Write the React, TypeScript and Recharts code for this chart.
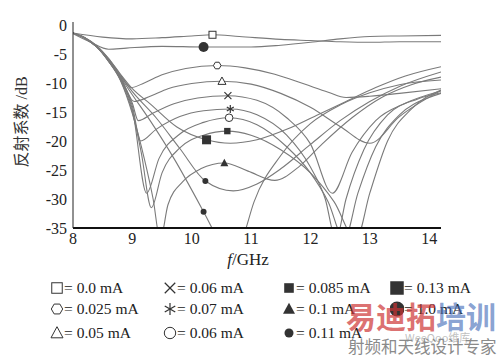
import React from "react";
import { LineChart, Line, XAxis, YAxis } from "recharts";

const xTicks = [8, 9, 10, 11, 12, 13, 14];
const yTicks = [0, -5, -10, -15, -20, -25, -30, -35];

// 0.0 mA
const f00 = [8, 8.5, 9.0, 9.5, 10.0, 10.35, 10.8, 11.5, 12.0, 12.5, 13.0, 13.5, 14.2];
const r00 = [-1.4, -2.1, -2.4, -2.2, -1.9, -1.7, -2.0, -2.5, -2.7, -2.9, -3.0, -2.9, -2.9];
// 1.0 mA
const f1 = [8, 8.3, 8.6, 8.9, 9.5, 10.2, 11.0, 11.5, 12.0, 12.5, 13.0, 13.5, 14.2];
const r1 = [-1.5, -3.0, -4.2, -4.0, -3.7, -3.8, -3.8, -3.5, -3.0, -2.4, -2.0, -1.9, -1.8];
// 0.025 mA
const f025 = [8, 8.2, 8.4, 8.6, 8.8, 8.98, 9.2, 9.5, 9.9, 10.43, 10.9, 11.4, 11.9, 12.3, 12.6, 13.0, 13.5, 14.2];
const r025 = [-1.4, -2.2, -3.6, -5.8, -8.6, -10.8, -10.0, -8.6, -7.5, -7.0, -7.4, -8.5, -10.2, -11.6, -12.5, -12.3, -11.8, -11.0];
// 0.05 mA
const f05 = [8, 8.2, 8.4, 8.6, 8.8, 9.03, 9.3, 9.6, 10.0, 10.51, 11.0, 11.5, 12.0, 12.5, 13.0, 13.5, 14.2];
const r05 = [-1.4, -2.3, -3.7, -6.0, -9.0, -13.2, -12.3, -11.0, -10.1, -9.7, -10.2, -11.8, -14.2, -17.5, -20.4, -15.8, -11.3];
// 0.06 mA (x)
const f06x = [8, 8.2, 8.4, 8.6, 8.8, 9.0, 9.1, 9.35, 9.7, 10.1, 10.61, 11.1, 11.6, 12.0, 12.37, 12.7, 13.1, 13.6, 14.2];
const r06x = [-1.4, -2.3, -3.8, -6.1, -9.2, -13.5, -16.5, -15.2, -13.6, -12.6, -12.2, -13.0, -16.0, -20.5, -29.0, -22.0, -16.5, -13.5, -11.4];
// 0.07 mA
const f07 = [8, 8.2, 8.4, 8.6, 8.8, 9.0, 9.14, 9.4, 9.8, 10.2, 10.65, 11.1, 11.6, 12.0, 12.25, 12.43, 12.6, 12.9, 13.3, 13.8, 14.2];
const r07 = [-1.4, -2.3, -3.8, -6.2, -9.3, -14.0, -20.0, -18.0, -15.8, -14.8, -14.5, -15.5, -19.0, -24.5, -30.0, -37.0, -30.0, -21.5, -15.5, -12.8, -11.7];
// 0.06 mA (circle)
const f06o = [8, 8.2, 8.4, 8.6, 8.8, 9.0, 9.24, 9.45, 9.8, 10.2, 10.63, 11.1, 11.6, 12.0, 12.3, 12.57, 12.8, 13.1, 13.5, 14.0, 14.2];
const r06o = [-1.4, -2.3, -3.8, -6.2, -9.4, -14.5, -29.0, -23.0, -18.8, -16.8, -16.0, -17.2, -21.0, -25.5, -30.5, -37.0, -29.0, -21.0, -15.5, -12.5, -11.8];
// 0.085 mA
const f085 = [8, 8.2, 8.4, 8.6, 8.8, 9.0, 9.15, 9.32, 9.5, 9.8, 10.2, 10.6, 11.0, 11.5, 12.0, 12.4, 12.77, 13.0, 13.3, 13.7, 14.2];
const r085 = [-1.4, -2.3, -3.8, -6.3, -9.5, -15.0, -22.0, -31.5, -25.5, -21.2, -19.0, -18.3, -19.0, -21.5, -25.5, -30.5, -37.0, -29.0, -20.0, -14.5, -11.2];
// 0.1 mA
const f10 = [8, 8.2, 8.4, 8.6, 8.8, 9.0, 9.2, 9.35, 9.47, 9.6, 9.85, 10.15, 10.55, 10.95, 11.4, 11.8, 12.2, 12.7, 13.2, 13.7, 14.2];
const r10 = [-1.4, -2.3, -3.8, -6.3, -9.6, -15.3, -23.0, -30.0, -37.0, -31.0, -27.0, -24.8, -23.8, -25.2, -26.8, -24.5, -20.5, -16.0, -12.5, -10.3, -9.0];
// 0.11 mA
const f11 = [8, 8.2, 8.4, 8.6, 8.8, 9.0, 9.4, 9.8, 10.23, 10.7, 11.1, 11.5, 12.0, 12.5, 13.0, 13.5, 14.2];
const r11 = [-1.4, -2.2, -3.7, -6.0, -8.8, -11.5, -16.0, -21.3, -26.9, -28.6, -27.4, -24.8, -20.6, -16.5, -13.2, -10.6, -8.1];
// 0.13 mA
const f13 = [8, 8.2, 8.4, 8.6, 8.8, 9.0, 9.3, 9.75, 10.25, 10.65, 11.1, 11.6, 12.1, 12.6, 13.1, 13.6, 14.2];
const r13 = [-1.4, -2.2, -3.6, -5.8, -8.5, -11.0, -13.6, -17.6, -19.8, -20.4, -19.8, -18.0, -15.6, -13.2, -10.8, -8.8, -7.2];
// unlabelled curve (dip below -35 near 10.65 GHz)
const fX = [8, 8.2, 8.4, 8.6, 8.8, 8.95, 9.3, 9.7, 10.2, 10.45, 10.65, 10.85, 11.05, 11.5, 12.0, 12.5, 13.0, 13.5, 14.2];
const rX = [-1.4, -2.3, -3.8, -6.1, -9.0, -11.3, -16.5, -23.0, -32.2, -37.0, -40.0, -37.0, -30.5, -22.5, -17.0, -13.8, -11.7, -10.3, -9.5];

type Shape = "sq" | "hex" | "tri" | "x" | "ast" | "circ" | "fsq" | "bsq" | "ftri" | "fdot" | "bdot";

const series: { id: string; label: string; f: number[]; r: number[]; mark: number; shape: Shape }[] = [
  { id: "s00", label: "0.0 mA", f: f00, r: r00, mark: 10.35, shape: "sq" },
  { id: "s025", label: "0.025 mA", f: f025, r: r025, mark: 10.43, shape: "hex" },
  { id: "s05", label: "0.05 mA", f: f05, r: r05, mark: 10.51, shape: "tri" },
  { id: "s06x", label: "0.06 mA", f: f06x, r: r06x, mark: 10.61, shape: "x" },
  { id: "s07", label: "0.07 mA", f: f07, r: r07, mark: 10.65, shape: "ast" },
  { id: "s06o", label: "0.06 mA", f: f06o, r: r06o, mark: 10.63, shape: "circ" },
  { id: "s085", label: "0.085 mA", f: f085, r: r085, mark: 10.6, shape: "fsq" },
  { id: "s10", label: "0.1 mA", f: f10, r: r10, mark: 10.55, shape: "ftri" },
  { id: "s11", label: "0.11 mA", f: f11, r: r11, mark: 10.23, shape: "fdot" },
  { id: "s13", label: "0.13 mA", f: f13, r: r13, mark: 10.25, shape: "bsq" },
  { id: "s1", label: "1.0 mA", f: f1, r: r1, mark: 10.2, shape: "bdot" },
  { id: "sX", label: "", f: fX, r: rX, mark: 10.2, shape: "fdot" },
];

// legend grid, by series id
const legendRows = [
  ["s00", "s06x", "s085", "s13"],
  ["s025", "s07", "s10", "s1"],
  ["s05", "s06o", "s11"],
];

const serif = "Liberation Serif, Times New Roman, serif";

function Marker({ shape, x, y, k = 1 }: { shape: Shape; x: number; y: number; k?: number }) {
  const c = "#333";
  const s = (v: number) => v * k;
  switch (shape) {
    case "sq":
      return <rect x={x - s(3.5)} y={y - s(3.5)} width={s(7)} height={s(7)} fill="#fff" stroke={c} strokeWidth={1} />;
    case "hex": {
      const pts = [0, 1, 2, 3, 4, 5]
        .map((i) => {
          const a = (Math.PI / 3) * i;
          return `${x + s(3.8) * Math.cos(a)},${y + s(3.8) * Math.sin(a)}`;
        })
        .join(" ");
      return <polygon points={pts} fill="#fff" stroke={c} strokeWidth={1} />;
    }
    case "tri":
      return (
        <polygon
          points={`${x},${y - s(4.2)} ${x + s(4)},${y + s(3.2)} ${x - s(4)},${y + s(3.2)}`}
          fill="#fff"
          stroke={c}
          strokeWidth={1}
        />
      );
    case "x":
      return (
        <g stroke={c} strokeWidth={1.2}>
          <line x1={x - s(3.5)} y1={y - s(3.5)} x2={x + s(3.5)} y2={y + s(3.5)} />
          <line x1={x - s(3.5)} y1={y + s(3.5)} x2={x + s(3.5)} y2={y - s(3.5)} />
        </g>
      );
    case "ast":
      return (
        <g stroke={c} strokeWidth={1.2}>
          <line x1={x} y1={y - s(4)} x2={x} y2={y + s(4)} />
          <line x1={x - s(3.5)} y1={y - s(2)} x2={x + s(3.5)} y2={y + s(2)} />
          <line x1={x - s(3.5)} y1={y + s(2)} x2={x + s(3.5)} y2={y - s(2)} />
        </g>
      );
    case "circ":
      return <circle cx={x} cy={y} r={s(3.8)} fill="#fff" stroke={c} strokeWidth={1} />;
    case "fsq":
      return <rect x={x - s(3.2)} y={y - s(3.2)} width={s(6.4)} height={s(6.4)} fill={c} />;
    case "bsq":
      return <rect x={x - s(4.5)} y={y - s(4.5)} width={s(9)} height={s(9)} fill={c} />;
    case "ftri":
      return (
        <polygon points={`${x},${y - s(4.2)} ${x + s(4)},${y + s(3.2)} ${x - s(4)},${y + s(3.2)}`} fill={c} />
      );
    case "fdot":
      return <circle cx={x} cy={y} r={s(3)} fill={c} />;
    case "bdot":
      return <circle cx={x} cy={y} r={s(5)} fill={c} />;
  }
  return null;
}

const legendX = [50, 163, 282, 390];
const legendY = [288, 309, 333];

export default function App() {
  return (
    <div style={{ position: "absolute", left: 0, top: 0, width: 502, height: 357, background: "#fff" }}>
      <LineChart width={502} height={357} margin={{ top: 22, right: 61, left: 0, bottom: 99 }}>
        <XAxis
          type="number"
          dataKey="f"
          domain={[8, 14.2]}
          ticks={xTicks}
          interval={0}
          allowDataOverflow
          height={30}
          tickLine={false}
          tickSize={0}
          tickMargin={5}
          axisLine={{ stroke: "#111", strokeWidth: 2 }}
          tick={{ fontFamily: serif, fontSize: 16, fill: "#222" }}
        />
        <YAxis
          type="number"
          domain={[-35, 0.5]}
          ticks={yTicks}
          interval={0}
          allowDataOverflow
          width={73}
          tickLine={false}
          tickSize={0}
          tickMargin={6}
          axisLine={{ stroke: "#222", strokeWidth: 1 }}
          tick={{ fontFamily: serif, fontSize: 16, fill: "#222" }}
        />
        {series.map((s) => (
          <Line
            key={s.id}
            data={s.f.map((f, i) => ({ f, r: s.r[i] }))}
            dataKey="r"
            type="monotone"
            stroke="#7a7a7a"
            strokeWidth={1.1}
            activeDot={false}
            legendType="none"
            isAnimationActive={false}
            dot={(p: any) => (
              <g key={`${s.id}-${p.index}`}>
                {p.payload && p.payload.f === s.mark ? <Marker shape={s.shape} x={p.cx} y={p.cy} /> : null}
              </g>
            )}
          />
        ))}
      </LineChart>

      {/* axis titles */}
      <div
        style={{
          position: "absolute",
          left: 200,
          top: 250,
          width: 96,
          textAlign: "center",
          fontFamily: serif,
          fontSize: 17,
          color: "#222",
        }}
      >
        <i>f</i>/GHz
      </div>
      <div
        style={{
          position: "absolute",
          left: 22 - 60,
          top: 122 - 10,
          width: 120,
          height: 20,
          lineHeight: "20px",
          textAlign: "center",
          transform: "rotate(-90deg)",
          fontFamily: "Liberation Serif, Noto Sans CJK SC, serif",
          fontSize: 16,
          color: "#333",
          whiteSpace: "nowrap",
        }}
      >
        反射系数 /dB
      </div>

      {/* legend */}
      {legendRows.map((row, ri) =>
        row.map((id, ci) => {
          const s = series.find((d) => d.id === id)!;
          return (
            <div
              key={id}
              style={{
                position: "absolute",
                left: legendX[ci],
                top: legendY[ri] - 10,
                height: 20,
                display: "flex",
                alignItems: "center",
                fontFamily: serif,
                fontSize: 15.5,
                color: "#222",
                whiteSpace: "nowrap",
              }}
            >
              <svg width={14} height={16}>
                <Marker shape={s.shape} x={7} y={8} k={1.5} />
              </svg>
              <span>= {s.label}</span>
            </div>
          );
        })
      )}

      {/* watermark */}
      <div
        style={{
          position: "absolute",
          left: 346,
          top: 298,
          fontFamily: "Noto Sans CJK SC, sans-serif",
          fontSize: 30,
          fontWeight: 700,
          lineHeight: "34px",
          whiteSpace: "nowrap",
        }}
      >
        <span style={{ color: "rgba(205,50,50,0.7)" }}>易迪拓</span>
        <span style={{ color: "rgba(70,110,185,0.65)" }}>培训</span>
      </div>
      <div
        style={{
          position: "absolute",
          left: 405,
          top: 329,
          fontFamily: "Noto Sans CJK SC, sans-serif",
          fontSize: 11,
          color: "rgba(150,150,150,0.6)",
          whiteSpace: "nowrap",
        }}
      >
        WeeQoo维库
      </div>
      <div
        style={{
          position: "absolute",
          left: 348,
          top: 336,
          fontFamily: "Noto Sans CJK SC, sans-serif",
          fontSize: 16.5,
          lineHeight: "20px",
          color: "#8a8a8a",
          whiteSpace: "nowrap",
        }}
      >
        射频和天线设计专家
      </div>
    </div>
  );
}
